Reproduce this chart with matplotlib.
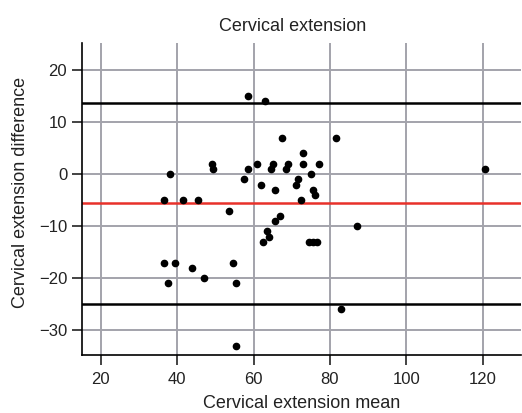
import matplotlib.pyplot as plt

plt.rcParams['font.family'] = ['Liberation Sans', 'DejaVu Sans']

# Bland-Altman data
mean_vals = [38, 36.5, 41.5, 45.5, 36.5, 39.5, 44, 37.5,
             67.5, 81.5, 49, 49.5, 57.5, 58.5, 61, 62, 53.5,
             65, 64.5, 65.5, 69, 68.5, 67, 65.5, 63.5, 64, 62.5,
             73, 73, 77, 75, 71.5, 71, 75.5, 76, 72.5,
             74.5, 75.5, 76.5, 47, 54.5, 55.5, 55.5, 83,
             87, 120.5, 58.5, 63]
diff_vals = [0, -5, -5, -5, -17, -17, -18, -21,
             7, 7, 2, 1, -1, 1, 2, -2, -7,
             2, 1, -3, 2, 1, -8, -9, -11, -12, -13,
             4, 2, 2, 0, -1, -2, -3, -4, -5,
             -13, -13, -13, -20, -17, -21, -33, -26,
             -10, 1, 15, 14]
bias = -5.6
upper_loa = 13.7
lower_loa = -24.9

fig = plt.figure(figsize=(5.22, 4.13), dpi=100)
ax = fig.add_axes([0.158, 0.140, 0.840, 0.757])

ax.grid(True, color='#a3a3ab', linewidth=1.4)
ax.set_axisbelow(True)
ax.axhline(upper_loa, color='black', linewidth=1.8)
ax.axhline(lower_loa, color='black', linewidth=1.8)
ax.axhline(bias, color='#e8312a', linewidth=1.8)
ax.plot(mean_vals, diff_vals, 'o', color='black', markersize=4.5, zorder=5)

ax.set_xlim(15.2, 130)
ax.set_ylim(-34.8, 25.3)
ax.set_xticks(range(20, 121, 20))
ax.set_yticks(range(-30, 21, 10))
ax.set_yticklabels([str(v).replace('-', '\u2212') for v in range(-30, 21, 10)])

for side in ['top', 'right']:
    ax.spines[side].set_visible(False)
for side in ['left', 'bottom']:
    ax.spines[side].set_linewidth(1.2)
ax.tick_params(direction='out', length=7, width=1.2, labelsize=12, colors='#222222')
ax.tick_params(axis='x', pad=5)
ax.tick_params(axis='y', pad=4)

ax.set_title('Cervical extension', fontsize=13, color='#222222', pad=8)
ax.title.set_x(0.48)
ax.set_xlabel('Cervical extension mean', fontsize=13, color='#222222', labelpad=6)
ax.set_ylabel('Cervical extension difference', fontsize=13, color='#222222')
ax.yaxis.set_label_coords(-0.122, 0.52)

fig.savefig('out.png', dpi=100)
